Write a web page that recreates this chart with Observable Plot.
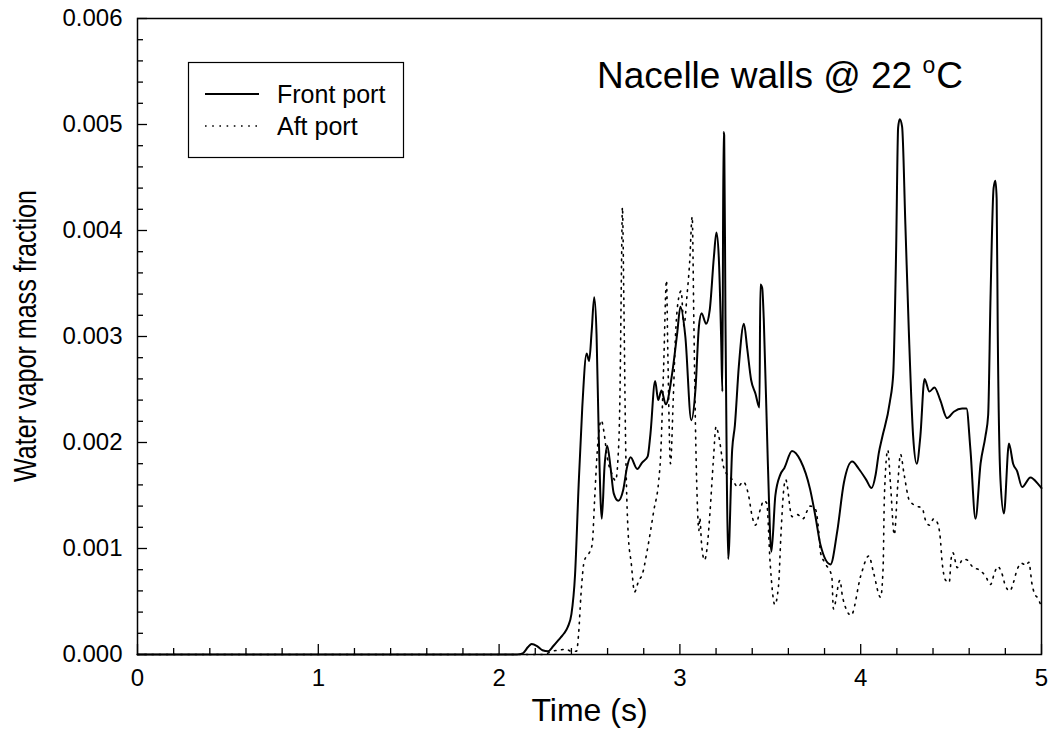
<!DOCTYPE html>
<html><head><meta charset="utf-8">
<script src="https://cdn.jsdelivr.net/npm/d3@7"></script>
<script src="https://cdn.jsdelivr.net/npm/@observablehq/plot@0.6"></script>
<style>body{margin:0;background:#fff}</style>
</head><body><div id="chart"></div>
<script>
// ---- data (time in s, water vapor mass fraction) ----
const frontT = [0,2.10,2.13,2.16,2.18,2.21,2.24,2.27,2.30,2.34,2.36,2.38,2.40,2.42,2.44,2.46,2.484,2.498,2.512,2.526,2.539,2.551,2.568,2.583,2.598,2.616,2.634,2.659,2.686,2.708,2.727,2.764,2.791,2.822,2.837,2.863,2.88,2.898,2.922,2.957,2.985,3.003,3.03,3.063,3.086,3.105,3.12,3.145,3.165,3.188,3.202,3.215,3.228,3.235,3.241,3.245,3.252,3.26,3.267,3.289,3.304,3.326,3.354,3.372,3.394,3.418,3.44,3.445,3.455,3.464,3.486,3.506,3.528,3.556,3.578,3.62,3.667,3.72,3.75,3.778,3.833,3.87,3.907,3.953,3.99,4.03,4.06,4.083,4.10,4.119,4.161,4.18,4.196,4.207,4.216,4.229,4.247,4.266,4.29,4.31,4.33,4.353,4.38,4.408,4.44,4.478,4.515,4.561,4.585,4.607,4.635,4.663,4.69,4.705,4.718,4.735,4.745,4.752,4.758,4.773,4.792,4.82,4.843,4.865,4.893,4.939,4.985,5.0];
const frontV = [0,0,0.01e-3,0.07e-3,0.10e-3,0.08e-3,0.04e-3,0.03e-3,0.08e-3,0.16e-3,0.20e-3,0.26e-3,0.38e-3,0.75e-3,1.60e-3,2.33e-3,2.84e-3,2.77e-3,3.05e-3,3.37e-3,3.02e-3,2.08e-3,1.28e-3,1.77e-3,1.97e-3,1.77e-3,1.52e-3,1.45e-3,1.55e-3,1.77e-3,1.86e-3,1.75e-3,1.81e-3,1.87e-3,2.08e-3,2.58e-3,2.40e-3,2.49e-3,2.36e-3,2.65e-3,3.03e-3,3.28e-3,3.00e-3,2.21e-3,2.50e-3,3.09e-3,3.22e-3,3.12e-3,3.25e-3,3.75e-3,3.98e-3,3.75e-3,2.99e-3,2.48e-3,4.93e-3,4.90e-3,3.16e-3,1.60e-3,0.90e-3,1.93e-3,2.16e-3,2.72e-3,3.12e-3,2.89e-3,2.59e-3,2.46e-3,2.33e-3,3.49e-3,3.46e-3,3.16e-3,1.83e-3,0.97e-3,1.50e-3,1.70e-3,1.76e-3,1.92e-3,1.83e-3,1.56e-3,1.30e-3,1.03e-3,0.85e-3,1.16e-3,1.62e-3,1.82e-3,1.75e-3,1.65e-3,1.57e-3,1.70e-3,1.90e-3,2.05e-3,2.38e-3,2.65e-3,3.82e-3,4.97e-3,5.05e-3,4.98e-3,4.06e-3,3.06e-3,2.06e-3,1.80e-3,2.06e-3,2.60e-3,2.48e-3,2.52e-3,2.40e-3,2.23e-3,2.29e-3,2.32e-3,2.32e-3,1.93e-3,1.28e-3,1.80e-3,2.06e-3,2.26e-3,3.36e-3,4.40e-3,4.47e-3,4.30e-3,3.05e-3,1.65e-3,1.33e-3,1.99e-3,1.80e-3,1.73e-3,1.58e-3,1.67e-3,1.60e-3,1.57e-3];

const aftT = [0,2.25,2.29,2.33,2.37,2.40,2.428,2.44,2.453,2.472,2.496,2.515,2.528,2.543,2.565,2.579,2.598,2.625,2.644,2.657,2.668,2.677,2.682,2.69,2.699,2.714,2.731,2.749,2.773,2.791,2.819,2.856,2.883,2.893,2.91,2.926,2.933,2.948,2.963,2.976,2.994,3.007,3.022,3.04,3.054,3.068,3.077,3.086,3.095,3.105,3.11,3.12,3.136,3.15,3.166,3.185,3.2,3.215,3.243,3.26,3.29,3.32,3.35,3.38,3.40,3.418,3.445,3.463,3.48,3.50,3.525,3.545,3.56,3.575,3.585,3.62,3.65,3.68,3.72,3.75,3.768,3.778,3.80,3.84,3.849,3.885,3.90,3.947,4.0,4.045,4.07,4.11,4.124,4.131,4.15,4.165,4.186,4.205,4.22,4.24,4.27,4.31,4.34,4.358,4.38,4.404,4.425,4.44,4.45,4.47,4.49,4.50,4.51,4.534,4.567,4.59,4.617,4.663,4.69,4.718,4.74,4.758,4.78,4.80,4.825,4.845,4.865,4.89,4.915,4.93,4.948,4.96,4.98,5.0];
const aftV = [0,0,0.03e-3,0.04e-3,0.05e-3,0.03e-3,0.03e-3,0.20e-3,0.57e-3,0.89e-3,0.95e-3,1.04e-3,1.45e-3,1.92e-3,2.21e-3,2.11e-3,1.86e-3,1.70e-3,1.64e-3,1.83e-3,2.40e-3,3.65e-3,4.22e-3,3.34e-3,2.08e-3,1.14e-3,0.86e-3,0.59e-3,0.70e-3,0.75e-3,0.98e-3,1.36e-3,1.64e-3,1.86e-3,2.71e-3,3.53e-3,2.87e-3,1.80e-3,2.40e-3,3.02e-3,3.37e-3,3.43e-3,3.10e-3,3.40e-3,3.70e-3,4.13e-3,3.16e-3,2.16e-3,1.50e-3,1.17e-3,1.29e-3,1.04e-3,0.89e-3,1.00e-3,1.33e-3,1.83e-3,2.15e-3,2.06e-3,1.76e-3,1.70e-3,1.65e-3,1.58e-3,1.63e-3,1.50e-3,1.30e-3,1.22e-3,1.37e-3,1.45e-3,1.43e-3,0.84e-3,0.47e-3,0.64e-3,1.17e-3,1.57e-3,1.65e-3,1.30e-3,1.32e-3,1.28e-3,1.40e-3,1.37e-3,1.16e-3,0.96e-3,0.87e-3,0.74e-3,0.43e-3,0.70e-3,0.54e-3,0.37e-3,0.74e-3,0.93e-3,0.78e-3,0.54e-3,0.82e-3,1.49e-3,1.93e-3,1.60e-3,1.13e-3,1.60e-3,1.89e-3,1.70e-3,1.45e-3,1.40e-3,1.38e-3,1.27e-3,1.22e-3,1.28e-3,1.24e-3,1.10e-3,0.88e-3,0.70e-3,0.68e-3,0.90e-3,0.96e-3,0.82e-3,0.90e-3,0.89e-3,0.83e-3,0.79e-3,0.74e-3,0.66e-3,0.77e-3,0.83e-3,0.77e-3,0.65e-3,0.60e-3,0.68e-3,0.80e-3,0.86e-3,0.84e-3,0.87e-3,0.66e-3,0.58e-3,0.53e-3,0.45e-3];

const seriesNames = ["Front port", "Aft port"];
const xTicks = [0, 1, 2, 3, 4, 5];
const yTicks = [0, 0.001, 0.002, 0.003, 0.004, 0.005, 0.006];
const xMinor = [0.2,0.4,0.6,0.8,1.2,1.4,1.6,1.8,2.2,2.4,2.6,2.8,3.2,3.4,3.6,3.8,4.2,4.4,4.6,4.8];
const yMinor = [0.0002,0.0004,0.0006,0.0008,0.0012,0.0014,0.0016,0.0018,0.0022,0.0024,0.0026,0.0028,0.0032,0.0034,0.0036,0.0038,0.0042,0.0044,0.0046,0.0048,0.0052,0.0054,0.0056,0.0058];
const xLabel = "Time (s)";
const yLabel = "Water vapor mass fraction";
const titleMain = "Nacelle walls @ 22 ", titleSup = "o", titleEnd = "C";

// ---- build ----
const front = frontT.map((t, i) => ({t, v: frontV[i]}));
const aft = aftT.map((t, i) => ({t, v: aftV[i]}));

const W = 1050, H = 751, mL = 137, mR = 9, mT = 18, mB = 97;
const plotW = W - mL - mR, plotH = H - mT - mB;
const FONT = "'Liberation Sans', Arial, Helvetica, sans-serif";
const DOTS = "1.6 5.6";

function legendMark() {
  const g = d3.create("svg:g").attr("text-anchor", "start");
  g.append("rect").attr("x", 188.5).attr("y", 62.5).attr("width", 215).attr("height", 95)
    .attr("fill", "white").attr("stroke", "black").attr("stroke-width", 1.2);
  g.append("line").attr("x1", 205).attr("x2", 259).attr("y1", 94).attr("y2", 94)
    .attr("stroke", "black").attr("stroke-width", 2);
  g.append("line").attr("x1", 205).attr("x2", 259).attr("y1", 126).attr("y2", 126)
    .attr("stroke", "black").attr("stroke-width", 1.6).attr("stroke-dasharray", DOTS);
  g.append("text").attr("x", 277).attr("y", 102.5).attr("font-size", 25).attr("fill", "black").text(seriesNames[0]);
  g.append("text").attr("x", 277).attr("y", 134.5).attr("font-size", 25).attr("fill", "black").text(seriesNames[1]);
  return g.node();
}
function titleMark() {
  const t = d3.create("svg:text").attr("text-anchor", "start")
    .attr("x", 597).attr("y", 88).attr("font-size", 37).attr("fill", "black");
  t.append("tspan").text(titleMain);
  t.append("tspan").attr("font-size", 23).attr("dy", -15).text(titleSup);
  t.append("tspan").attr("dy", 15).attr("dx", 1).text(titleEnd);
  return t.node();
}
function yLabelMark() {
  return d3.create("svg:text").attr("text-anchor", "middle")
    .attr("transform", `translate(36,${mT + plotH / 2}) rotate(-90)`)
    .attr("font-size", 31).attr("fill", "black")
    .attr("textLength", 292).attr("lengthAdjust", "spacingAndGlyphs")
    .text(yLabel).node();
}

const chart = Plot.plot({
  width: W, height: H,
  marginLeft: mL, marginRight: mR, marginTop: mT, marginBottom: mB,
  style: {fontFamily: FONT, background: "white", color: "black", overflow: "visible"},
  x: {domain: [0, 5]},
  y: {domain: [0, 0.006]},
  marks: [
    Plot.line(aft, {x: "t", y: "v", stroke: "black", strokeWidth: 1.6, strokeDasharray: DOTS, curve: "monotone-x"}),
    Plot.line(front, {x: "t", y: "v", stroke: "black", strokeWidth: 2, curve: "monotone-x"}),
    Plot.ruleX(xTicks, {insetTop: plotH - 10, stroke: "black", strokeWidth: 1.3}),
    Plot.ruleX(xMinor, {insetTop: plotH - 6, stroke: "black", strokeWidth: 1.3}),
    Plot.ruleY(yTicks, {insetRight: plotW - 10, stroke: "black", strokeWidth: 1.3}),
    Plot.ruleY(yMinor, {insetRight: plotW - 6, stroke: "black", strokeWidth: 1.3}),
    Plot.frame({stroke: "black", strokeWidth: 1.5}),
    Plot.axisX({ticks: xTicks, tickSize: 0, tickPadding: 14, fontSize: 24, tickFormat: d => String(d), label: null}),
    Plot.axisY({ticks: yTicks, tickSize: 0, tickPadding: 15, fontSize: 24, tickFormat: d3.format(".3f"), label: null}),
    Plot.text([xLabel], {frameAnchor: "bottom", dy: 66, lineAnchor: "bottom", fontSize: 32, fill: "black"}),
    yLabelMark,
    legendMark,
    titleMark
  ]
});
document.getElementById("chart").appendChild(chart);
</script>
</body></html>
